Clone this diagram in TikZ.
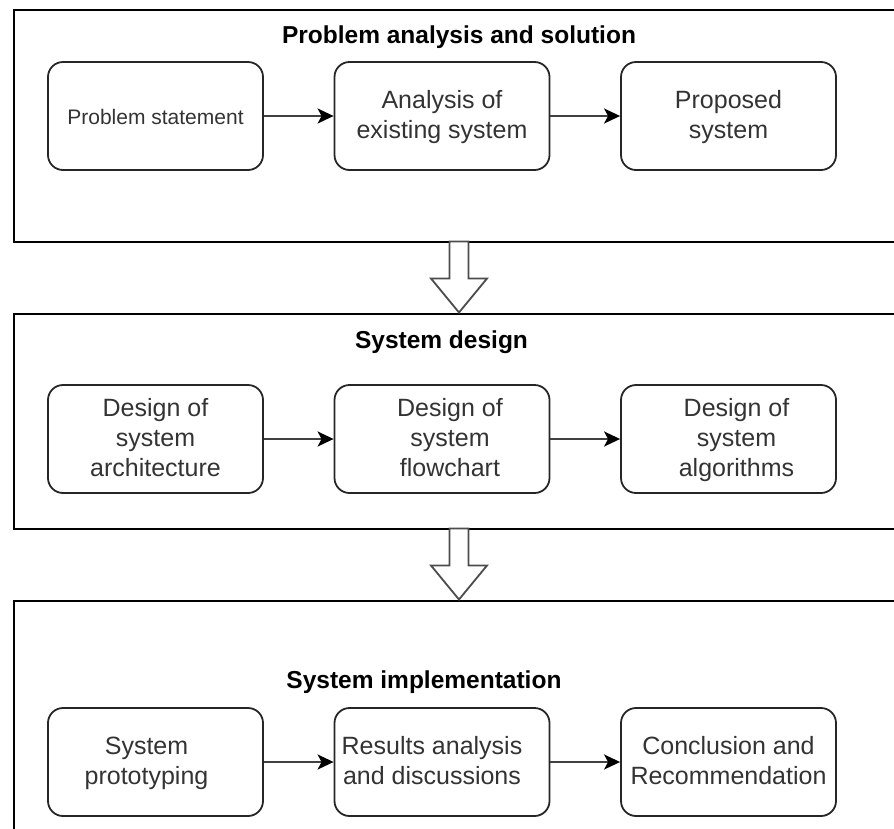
\documentclass[tikz,border=0pt]{standalone}
\usepackage{fontspec}
\setmainfont{Liberation Sans}
\usetikzlibrary{arrows.meta}

\tikzset{
  panel/.style={draw=black, line width=1.8pt, anchor=north west, inner sep=0pt},
  stepbox/.style={draw=black!85, line width=1.8pt, rounded corners=15pt,
    minimum width=215pt, minimum height=108pt, inner sep=0pt},
  boxtext/.style={align=center, font=\fontsize{25}{30}\selectfont, text=black!80, inner sep=0pt,
    yshift=-3pt, execute at begin node=\strut, execute at end node=\strut},
  smalltext/.style={boxtext, font=\fontsize{21}{25}\selectfont},
  title/.style={font=\fontsize{24.5}{29}\selectfont\bfseries, anchor=base, inner sep=0pt},
  flow/.style={draw=black!75, line width=2.3pt,
    -{Stealth[length=16pt,width=15pt,inset=4pt,color=black]}},
  hollow/.style={draw=black!70, line width=1.8pt, fill=white, line join=miter},
}

\begin{document}
\begin{tikzpicture}[x=1pt, y=-1pt]
  \useasboundingbox (0,0) rectangle (894,828);
  \clip (0,0) rectangle (894,828);

  % stage panels (their right sides run off the page)
  \node[panel, minimum width=900pt, minimum height=232pt] (p1) at (13,9) {};
  \node[panel, minimum width=900pt, minimum height=215pt] (p2) at (13,313) {};
  \node[panel, minimum width=900pt, minimum height=260pt] (p3) at (13,600) {};

  % panel titles
  \node[title] (t1) at (459,43) {Problem analysis and solution};
  \node[title] (t2) at (441.5,348) {System design};
  \node[title] (t3) at (424,688) {System implementation};

  % stage 1
  \node[stepbox] (a1) at (155.5,116) {};
  \node[smalltext] (a1t) at (a1) {Problem statement};
  \node[stepbox] (a2) at (442,116) {};
  \node[boxtext] (a2t) at (a2) {Analysis of\\existing system};
  \node[stepbox] (a3) at (728.5,116) {};
  \node[boxtext] (a3t) at (a3) {Proposed\\system};

  % stage 2
  \node[stepbox] (b1) at (155.5,439) {};
  \node[boxtext] (b1t) at (b1) {Design of\\system\\architecture};
  \node[stepbox] (b2) at (442,439) {};
  \node[boxtext, xshift=8pt] (b2t) at (b2) {Design of\\system\\flowchart};
  \node[stepbox] (b3) at (728.5,439) {};
  \node[boxtext, xshift=8pt] (b3t) at (b3) {Design of\\system\\algorithms};

  % stage 3
  \node[stepbox] (c1) at (155.5,762) {};
  \node[boxtext, xshift=-9pt] (c1t) at (c1) {System\\prototyping};
  \node[stepbox] (c2) at (442,762) {};
  \node[boxtext, xshift=-10pt] (c2t) at (c2) {Results analysis\\and discussions};
  \node[stepbox] (c3) at (728.5,762) {};
  \node[boxtext] (c3t) at (c3) {Conclusion and\\Recommendation};

  % flow between steps
  \draw[flow] (a1.east) -- (a2.west);
  \draw[flow] (a2.east) -- (a3.west);
  \draw[flow] (b1.east) -- (b2.west);
  \draw[flow] (b2.east) -- (b3.west);
  \draw[flow] (c1.east) -- (c2.west);
  \draw[flow] (c2.east) -- (c3.west);

  % hollow block arrows between stages
  \coordinate (h1) at (459,241.5);
  \coordinate (h2) at (459,528.5);
  \foreach \h in {h1,h2}{
    \draw[hollow] (\h) ++(-9.5,0) -- ++(0,37) -- ++(-18.5,0) -- ++(28,34)
      -- ++(28,-34) -- ++(-18.5,0) -- ++(0,-37) -- cycle;
  }
\end{tikzpicture}
\end{document}
